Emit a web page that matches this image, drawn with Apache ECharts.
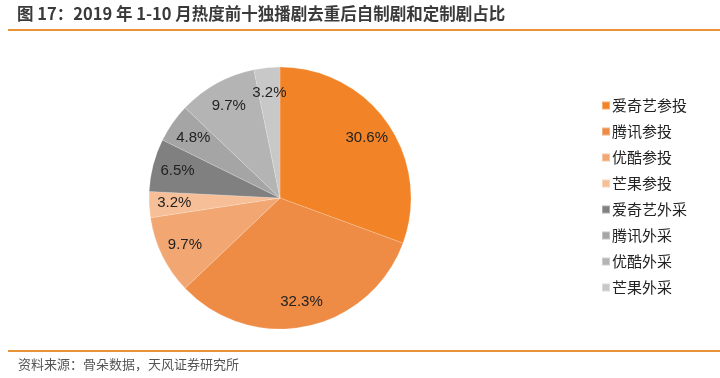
<!DOCTYPE html>
<html><head><meta charset="utf-8">
<script src="https://cdn.jsdelivr.net/npm/echarts@6/dist/echarts.min.js"></script>
<style>html,body{margin:0;padding:0;background:#fff}#c{width:720px;height:378px}</style>
</head><body><div id="c"></div>
<script>
const categories = ['爱奇艺参投','腾讯参投','优酷参投','芒果参投','爱奇艺外采','腾讯外采','优酷外采','芒果外采'];
const values = [30.6, 32.3, 9.7, 3.2, 6.5, 4.8, 9.7, 3.2];
const colors = ['#F28427','#EE8B45','#F2A772','#F6BF98','#808080','#A5A5A5','#B4B4B4','#C8C8C8'];
const titleText = '图 17：2019 年 1-10 月热度前十独播剧去重后自制剧和定制剧占比';
const sourceText = '资料来源：骨朵数据，天风证券研究所';

const data = categories.map((c,i)=>({name:c, value:values[i], itemStyle:{color:colors[i]}}));
const labelData = categories.map((c,i)=>({name:c, value:values[i]}));
const chart = echarts.init(document.getElementById('c'));
const CX = 280, CY = 198, R = 131;
chart.setOption({
  animation:false,
  backgroundColor:'#fff',
  graphic:[
    {type:'text', left:17, top:5, style:{text:titleText, font:'bold 16.5px "Noto Sans CJK SC", sans-serif', fill:'#3a3a3a'}},
    {type:'rect', shape:{x:8,y:29,width:712,height:2}, style:{fill:'#E8923A'}},
    {type:'rect', shape:{x:8,y:350,width:712,height:2}, style:{fill:'#E8923A'}},
    {type:'text', left:18, top:358, style:{text:sourceText, font:'13px "Noto Sans CJK SC", sans-serif', fill:'#555'}}
  ],
  legend:{
    orient:'vertical', left:596, top:93, itemWidth:8, itemHeight:8, itemGap:11,
    icon:'rect', data:categories,
    textStyle:{fontSize:15, color:'#222', fontFamily:'"Noto Sans CJK SC", sans-serif', padding:[0,0,0,-3], lineHeight:15}
  },
  series:[
    {type:'pie', center:[CX,CY], radius:[0,R], startAngle:90, clockwise:true, data:data,
     label:{show:false}, labelLine:{show:false}, emphasis:{disabled:true},
     itemStyle:{borderColor:'rgba(255,255,255,0.35)', borderWidth:0.5}},
    {type:'pie', center:[CX,CY], radius:[R*0.57,R], startAngle:90, clockwise:true, data:labelData,
     legendHoverLink:false, silent:true, itemStyle:{color:'transparent'},
     label:{show:true, position:'inside', formatter:p=>p.value.toFixed(1)+'%', fontSize:15, color:'#222', fontFamily:'"Liberation Sans", Arial, sans-serif'},
     labelLine:{show:false}, emphasis:{disabled:true}}
  ]
});
</script></body></html>
